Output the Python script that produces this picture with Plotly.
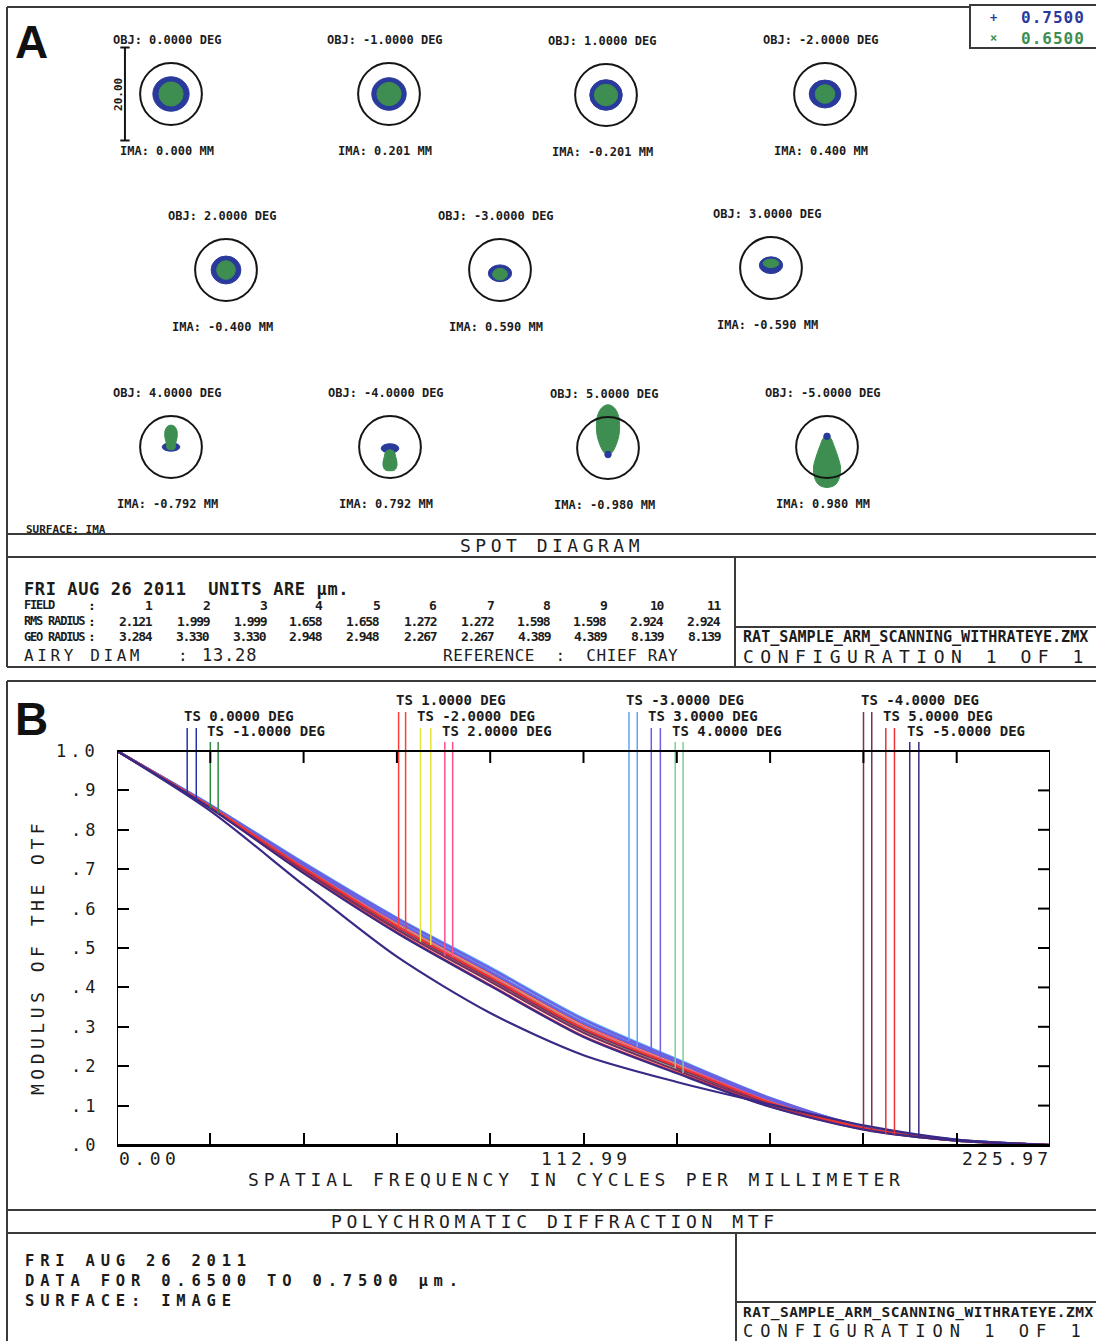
import numpy as np
import plotly.graph_objects as go

W, H = 1096, 1341
MONO = "DejaVu Sans Mono"
INK = "#1c1c1c"
FRAME = "#3a3a3a"

# ======================= DATA =======================
field_obj = ["0.0000", "-1.0000", "1.0000", "-2.0000", "2.0000", "-3.0000",
             "3.0000", "4.0000", "-4.0000", "5.0000", "-5.0000"]
field_ima = ["0.000", "0.201", "-0.201", "0.400", "-0.400", "0.590",
             "-0.590", "-0.792", "0.792", "-0.980", "0.980"]
field_num = ["1", "2", "3", "4", "5", "6", "7", "8", "9", "10", "11"]
rms_radius = [2.121, 1.999, 1.999, 1.658, 1.658, 1.272, 1.272, 1.598, 1.598, 2.924, 2.924]
geo_radius = [3.284, 3.330, 3.330, 2.948, 2.948, 2.267, 2.267, 4.389, 4.389, 8.139, 8.139]
airy_diam = 13.28
wavelengths = ["0.7500", "0.6500"]
wave_symbols = ["+", "×"]
wave_colors = ["#2a3a9c", "#3d8e50"]
mtf_footer = ["FRI AUG 26 2011", "DATA FOR 0.6500 TO 0.7500 µm.", "SURFACE: IMAGE"]

# spot ellipses in µm (blue = 0.75 µm, green = 0.65 µm)
blue_rx = [3.9, 3.7, 3.5, 3.4, 3.2, 2.5, 2.5, 1.9, 1.9, 0.7, 0.7]
blue_ry = [3.7, 3.5, 3.3, 3.0, 3.0, 1.8, 1.8, 0.9, 1.0, 0.7, 0.7]
blue_cy = [0.0, 0.0, 0.0, 0.0, 0.0, -0.7, 0.6, 0.0, -0.3, -1.4, 2.3]
green_rx = [2.6, 2.6, 2.5, 2.1, 2.0, 1.6, 1.7]
green_ry = [2.6, 2.5, 2.3, 2.0, 2.0, 1.25, 0.9]
green_cy = [0.0, 0.0, 0.0, 0.0, 0.0, -0.9, 1.0]
# elongated green spots (fields 8-11), outline in µm
tear_x = {
    8: [0, 0.8, 1.3, 1.3, 1.0, 0.8, 0.0, -0.8, -1.0, -1.3, -1.3, -0.8, 0],
    9: [0, 0.9, 1.2, 1.5, 1.4, 0.9, 0.0, -0.9, -1.4, -1.5, -1.2, -0.9, 0],
    10: [0, 1.3, 2.3, 2.5, 2.3, 1.7, 0.9, 0.0, -0.9, -1.7, -2.3, -2.5, -2.3, -1.3, 0],
    11: [0, 0.8, 1.6, 2.4, 2.9, 2.7, 1.8, 0.0, -1.8, -2.7, -2.9, -2.4, -1.6, -0.8, 0],
}
tear_y = {
    8: [4.7, 4.4, 3.4, 2.0, 0.8, -0.4, -0.6, -0.4, 0.8, 2.0, 3.4, 4.4, 4.7],
    9: [-0.6, -1.0, -2.0, -3.3, -4.4, -5.0, -5.1, -5.0, -4.4, -3.3, -2.0, -1.0, -0.6],
    10: [9.3, 8.7, 6.8, 4.5, 2.5, 0.6, -0.9, -1.5, -0.9, 0.6, 2.5, 4.5, 6.8, 8.7, 9.3],
    11: [2.6, 1.9, 0.0, -2.3, -4.3, -6.5, -8.1, -8.7, -8.1, -6.5, -4.3, -2.3, 0.0, 1.9, 2.6],
}
scale_bar_um = 20.0

# MTF (polychromatic diffraction), cycles/mm
freq = [0.00, 22.60, 45.19, 67.79, 90.39, 112.99, 135.58, 158.18, 180.78, 203.37, 225.97]
mtf_T = [
    [1.000, .862, .712, .569, .441, .311, .212, .116, .046, .013, .000],
    [1.000, .861, .707, .563, .433, .303, .206, .112, .044, .012, .000],
    [1.000, .860, .704, .558, .428, .298, .201, .109, .044, .012, .000],
    [1.000, .859, .701, .555, .423, .293, .198, .107, .043, .012, .000],
    [1.000, .859, .701, .554, .422, .292, .197, .106, .043, .012, .000],
    [1.000, .864, .717, .577, .451, .321, .218, .120, .047, .013, .000],
    [1.000, .863, .715, .575, .448, .318, .216, .119, .047, .013, .000],
    [1.000, .859, .703, .557, .427, .297, .200, .108, .043, .012, .000],
    [1.000, .858, .701, .554, .422, .292, .197, .106, .043, .012, .000],
    [1.000, .855, .691, .540, .406, .276, .184, .098, .040, .011, .000],
    [1.000, .848, .660, .478, .335, .228, .160, .103, .050, .014, .000],
]
mtf_S = [
    [1.000, .861, .709, .566, .437, .307, .208, .114, .045, .012, .000],
    [1.000, .861, .709, .565, .436, .306, .208, .113, .045, .012, .000],
    [1.000, .861, .707, .564, .434, .305, .207, .112, .045, .012, .000],
    [1.000, .860, .706, .561, .431, .301, .204, .111, .044, .012, .000],
    [1.000, .860, .705, .560, .430, .300, .203, .110, .044, .012, .000],
    [1.000, .862, .711, .569, .441, .311, .211, .116, .046, .013, .000],
    [1.000, .862, .710, .567, .439, .309, .210, .115, .046, .012, .000],
    [1.000, .858, .699, .552, .420, .290, .195, .105, .042, .011, .000],
    [1.000, .857, .696, .547, .415, .285, .190, .102, .041, .011, .000],
    [1.000, .859, .703, .556, .426, .296, .200, .108, .043, .012, .000],
    [1.000, .855, .690, .538, .404, .274, .182, .097, .039, .011, .000],
]
field_colors = ["#2232a8", "#2e8a40", "#ff3c3c", "#e4e43a", "#ff4f8c", "#5aa6ff",
                "#6e5ee0", "#7fcf96", "#7a2e5e", "#f03232", "#3a2a86"]
ts_mark_T = [17.0, 22.6, 68.2, 73.5, 79.4, 124.0, 129.4, 135.2, 180.8, 186.2, 192.0]
ts_mark_S = [19.2, 24.5, 69.9, 76.0, 81.3, 126.0, 131.6, 137.1, 182.8, 188.3, 194.2]
ts_level = [2, 3, 1, 2, 3, 1, 2, 3, 1, 2, 3]
y_tick_vals = [0.0, 0.1, 0.2, 0.3, 0.4, 0.5, 0.6, 0.7, 0.8, 0.9, 1.0]
y_tick_text = [".0", ".1", ".2", ".3", ".4", ".5", ".6", ".7", ".8", ".9", "1.0"]
x_tick_text = ["0.00", "112.99", "225.97"]
n_x_div = 10

# ======================= LAYOUT HELPERS =======================
shapes, ann, axes = [], [], {}


def line_px(x0, y0, x1, y1, color=FRAME, width=2):
    shapes.append(dict(type="line", xref="paper", yref="paper",
                       x0=x0 / W, y0=1 - y0 / H, x1=x1 / W, y1=1 - y1 / H,
                       line=dict(color=color, width=width)))


def text_px(x, y, s, size=13, family=MONO, color=INK, bold=False,
            xanchor="left", spacing=0.0, angle=0):
    if spacing:
        s = f'<span style="letter-spacing:{spacing}px">{s}</span>'
    ann.append(dict(x=x / W, y=1 - y / H, xref="paper", yref="paper", text=s,
                    showarrow=False, xanchor=xanchor, yanchor="middle",
                    textangle=angle, align="left",
                    font=dict(family=family, size=size, color=color,
                              weight="bold" if bold else "normal")))


fig = go.Figure()

# ======================= PANEL A : SPOT DIAGRAM =======================
line_px(7, 7, 970, 7)
line_px(7, 7, 7, 667)
line_px(7, 667, 1096, 667)
line_px(7, 534, 1096, 534)
line_px(7, 557, 1096, 557)
line_px(735, 557, 735, 667)
line_px(735, 627, 1096, 627)
shapes.append(dict(type="rect", xref="paper", yref="paper", x0=970 / W, x1=1.01,
                   y0=1 - 48 / H, y1=1 - 5 / H, line=dict(color=FRAME, width=2)))
for i, (wl, sym, col) in enumerate(zip(wavelengths, wave_symbols, wave_colors)):
    yy = 18 + 20 * i
    text_px(993, yy, sym, size=12, color=col, bold=True, xanchor="center")
    text_px(1019, yy, wl, size=16, color=col, bold=True, spacing=1.0)

text_px(13, 42, "A", size=46, family="Liberation Sans, Arial", color="#111", bold=True)

cell_cx = [171, 389, 606, 825, 226, 500, 771, 171, 390, 608, 827]
cell_cy = [94, 94, 95, 94, 270, 270, 268, 447, 447, 448, 447]
K = 4.65      # px per µm
HALF = 66     # px half-size of a cell
rng = HALF / K
for i in range(11):
    k = i + 2
    cx, cy = cell_cx[i], cell_cy[i]
    axes[f"xaxis{k}"] = dict(domain=[(cx - HALF) / W, (cx + HALF) / W], range=[-rng, rng],
                             visible=False, anchor=f"y{k}", fixedrange=True)
    axes[f"yaxis{k}"] = dict(domain=[1 - (cy + HALF) / H, 1 - (cy - HALF) / H],
                             range=[-rng, rng], visible=False, anchor=f"x{k}", fixedrange=True)
    xr, yr = f"x{k}", f"y{k}"
    elongated = (i + 1) in tear_x
    shapes.append(dict(type="circle", xref=xr, yref=yr,
                       layer="below" if (i + 1) in (8, 9) else "above",
                       x0=-blue_rx[i], x1=blue_rx[i],
                       y0=blue_cy[i] - blue_ry[i], y1=blue_cy[i] + blue_ry[i],
                       fillcolor=wave_colors[0], line=dict(color=wave_colors[0], width=1)))
    if elongated:
        fig.add_trace(go.Scatter(x=tear_x[i + 1], y=tear_y[i + 1], xaxis=xr, yaxis=yr,
                                 mode="lines", fill="toself", fillcolor=wave_colors[1],
                                 line=dict(color=wave_colors[1], width=1, shape="spline"),
                                 hoverinfo="skip", showlegend=False))
    else:
        shapes.append(dict(type="circle", xref=xr, yref=yr,
                           x0=-green_rx[i], x1=green_rx[i],
                           y0=green_cy[i] - green_ry[i], y1=green_cy[i] + green_ry[i],
                           fillcolor=wave_colors[1], line=dict(color=wave_colors[1], width=1)))
    shapes.append(dict(type="circle", xref=xr, yref=yr,
                       x0=-airy_diam / 2, x1=airy_diam / 2,
                       y0=-airy_diam / 2, y1=airy_diam / 2,
                       line=dict(color="#151515", width=2)))
    text_px(cx - 4, cy - 54, f"OBJ: {field_obj[i]} DEG", size=12, bold=True, xanchor="center")
    text_px(cx - 4, cy + 57, f"IMA: {field_ima[i]} MM", size=12, bold=True, xanchor="center")

# scale bar in first cell
sb_x = -9.9
shapes.append(dict(type="line", xref="x2", yref="y2", x0=sb_x, x1=sb_x,
                   y0=-scale_bar_um / 2, y1=scale_bar_um / 2, line=dict(color="#151515", width=2)))
for yy in (-scale_bar_um / 2, scale_bar_um / 2):
    shapes.append(dict(type="line", xref="x2", yref="y2", x0=sb_x - 1.0, x1=sb_x + 1.0,
                       y0=yy, y1=yy, line=dict(color="#151515", width=2)))
ann.append(dict(x=sb_x, y=0, xref="x2", yref="y2", text=f"{scale_bar_um:.2f}",
                showarrow=False, textangle=-90, xshift=-6,
                font=dict(family=MONO, size=11, color=INK, weight="bold")))

text_px(24, 529, "SURFACE: IMA", size=11, bold=True)
text_px(552, 545, "SPOT DIAGRAM", size=18, xanchor="center", spacing=4.5)

text_px(22, 589, "FRI AUG 26 2011  UNITS ARE µm.", size=17, bold=True, spacing=0.6)
col_right = [153 + 56.8 * j for j in range(11)]
rows = [("FIELD", field_num, 605), ("RMS RADIUS", [f"{v:.3f}" for v in rms_radius], 621),
        ("GEO RADIUS", [f"{v:.3f}" for v in geo_radius], 637)]
for label, vals, yy in rows:
    text_px(22, yy, label, size=12, bold=True, spacing=-1.2)
    text_px(86, yy, ":", size=13, bold=True)
    for j, v in enumerate(vals):
        text_px(col_right[j] + 2, yy, v, size=13, bold=True, xanchor="right", spacing=-1.4)
text_px(22, 655, "AIRY DIAM", size=16, spacing=3.6)
text_px(176, 655, ":", size=16)
text_px(200, 655, f"{airy_diam:.2f}", size=17, spacing=0.8)
text_px(441, 655, "REFERENCE  :  CHIEF RAY", size=16, spacing=0.6)
text_px(741, 637, "RAT_SAMPLE_ARM_SCANNING_WITHRATEYE.ZMX", size=15.1, bold=True)
text_px(741, 656, "CONFIGURATION 1 OF 1", size=18, spacing=6.5)

# ======================= PANEL B : MTF =======================
line_px(7, 681, 1096, 681)
line_px(7, 681, 7, 1341)
line_px(7, 1210, 1096, 1210)
line_px(7, 1233, 1096, 1233)
line_px(736, 1233, 736, 1341)
line_px(736, 1302, 1096, 1302)
text_px(13, 719, "B", size=46, family="Liberation Sans, Arial", color="#111", bold=True)

PX0, PX1 = 117, 1050        # plot x extent (px)
PY0, PY1 = 1145, 751        # y pixel of MTF 0 and 1
PYTOP = 695
ppu = PY0 - PY1
fmax = freq[-1]
x_ticks = [fmax * j / n_x_div for j in range(n_x_div + 1)]

axes["xaxis"] = dict(domain=[PX0 / W, PX1 / W], range=[0, fmax], showgrid=False, zeroline=False,
                     showline=True, linecolor="black", linewidth=2, ticks="inside", ticklen=12,
                     tickwidth=2, tickcolor="black", tickvals=x_ticks, showticklabels=False,
                     anchor="y", fixedrange=True)
axes["yaxis"] = dict(domain=[1 - PY0 / H, 1 - PYTOP / H], range=[0, (PY0 - PYTOP) / ppu],
                     showgrid=False, zeroline=False, showline=False, ticks="inside",
                     ticklen=12, tickwidth=2, tickcolor="black", tickvals=y_tick_vals,
                     showticklabels=False, anchor="x", fixedrange=True)

shapes.append(dict(type="rect", xref="x", yref="y", x0=0, x1=fmax, y0=0, y1=1.0,
                   line=dict(color="black", width=2)))
for t in x_ticks:
    shapes.append(dict(type="line", xref="x", yref="y", ysizemode="pixel", yanchor=1.0,
                       y0=-12, y1=0, x0=t, x1=t, line=dict(color="black", width=2)))
for v in y_tick_vals:
    shapes.append(dict(type="line", xref="x", yref="y", xsizemode="pixel", xanchor=fmax,
                       x0=-12, x1=0, y0=v, y1=v, line=dict(color="black", width=2)))

# curves
for i in range(11):
    for vals in (mtf_S[i], mtf_T[i]):
        fig.add_trace(go.Scatter(x=freq, y=vals, mode="lines", xaxis="x", yaxis="y",
                                 line=dict(color=field_colors[i], width=2.2, shape="spline",
                                           smoothing=0.8),
                                 hoverinfo="skip", showlegend=False))

# TS label leader lines
level_top_px = {1: 712, 2: 728, 3: 742}
level_text_px = {1: 700, 2: 716, 3: 731}
for i in range(11):
    top = (PY0 - level_top_px[ts_level[i]]) / ppu
    for m, vals in ((ts_mark_T[i], mtf_T[i]), (ts_mark_S[i], mtf_S[i])):
        fig.add_trace(go.Scatter(x=[m, m], y=[float(np.interp(m, freq, vals)) - 0.006, top],
                                 mode="lines", xaxis="x", yaxis="y",
                                 line=dict(color=field_colors[i], width=1.5),
                                 hoverinfo="skip", showlegend=False))
    ann.append(dict(x=ts_mark_T[i], y=(PY0 - level_text_px[ts_level[i]]) / ppu,
                    xref="x", yref="y", xanchor="left", yanchor="middle", xshift=-5,
                    showarrow=False, text=f"TS {field_obj[i]} DEG",
                    font=dict(family=MONO, size=14, color=INK, weight="bold")))

for v, t in zip(y_tick_vals, y_tick_text):
    ann.append(dict(x=(PX0 - 16) / W, y=v, xref="paper", yref="y", xanchor="right",
                    yanchor="middle", showarrow=False,
                    text=f'<span style="letter-spacing:4px">{t}</span>',
                    font=dict(family=MONO, size=17, color=INK)))
text_px(PX0, 1158, x_tick_text[0], size=18, spacing=4.5)
text_px((PX0 + PX1) / 2 + 2, 1158, x_tick_text[1], size=18, spacing=4.2, xanchor="center")
text_px(PX1 + 4, 1158, x_tick_text[2], size=18, spacing=4.2, xanchor="right")
text_px(576, 1179, "SPATIAL FREQUENCY IN CYCLES PER MILLIMETER", size=18, spacing=4.8,
        xanchor="center")
text_px(37, 957, "MODULUS OF THE OTF", size=18, spacing=4.5, xanchor="center", angle=-90)

text_px(555, 1221, "POLYCHROMATIC DIFFRACTION MTF", size=18, spacing=4.6, xanchor="center")
footer = "<br>".join(f'<span style="letter-spacing:5.8px">{s}</span>' for s in mtf_footer)
text_px(23, 1281, footer, size=15.5, bold=True)
text_px(741, 1312, "RAT_SAMPLE_ARM_SCANNING_WITHRATEYE.ZMX", size=14.5, bold=True, spacing=0.5)
text_px(741, 1331, "CONFIGURATION 1 OF 1", size=17, spacing=7.0)

fig.update_layout(width=W, height=H, margin=dict(l=0, r=0, t=0, b=0),
                  paper_bgcolor="white", plot_bgcolor="white", showlegend=False,
                  hovermode=False, shapes=shapes, annotations=ann, **axes)
fig.write_html("out.html", config={"displayModeBar": False})
